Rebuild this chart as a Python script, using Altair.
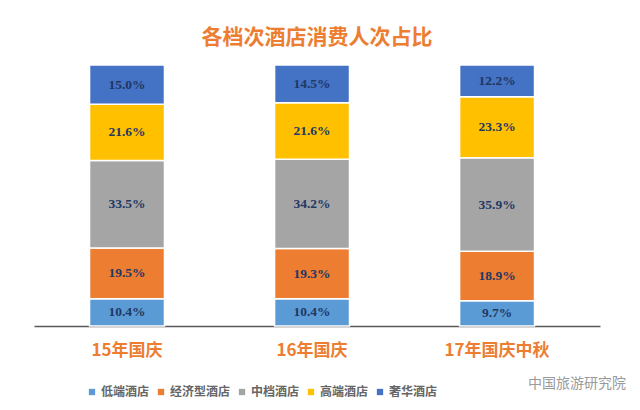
import altair as alt
import pandas as pd

# 数据
periods = ["15年国庆", "16年国庆", "17年国庆中秋"]
hotel_types = ["低端酒店", "经济型酒店", "中档酒店", "高端酒店", "奢华酒店"]
colors = ["#5B9BD5", "#ED7D31", "#A5A5A5", "#FFC000", "#4472C4"]

share_15 = [10.4, 19.5, 33.5, 21.6, 15.0]
share_16 = [10.4, 19.3, 34.2, 21.6, 14.5]
share_17 = [9.7, 18.9, 35.9, 23.3, 12.2]

rows = []
for period, shares in zip(periods, [share_15, share_16, share_17]):
    for i, (tipo, v) in enumerate(zip(hotel_types, shares)):
        rows.append({"period": period, "type": tipo, "order": i, "value": v})
dados = pd.DataFrame(rows)

cor_titulo = "#ED7D31"
cor_rotulo = "#1F3864"
fonte_cjk = "Noto Sans CJK SC"

base = alt.Chart(dados).transform_stack(
    stack="value",
    as_=["y0", "y1"],
    groupby=["period"],
    sort=[alt.SortField("order", order="ascending")],
).transform_calculate(
    mid="(datum.y0 + datum.y1) / 2",
    label="format(datum.value, '.1f') + '%'",
)

x_enc = alt.X(
    "period:N",
    sort=periods,
    title=None,
    scale=alt.Scale(paddingInner=0.595, paddingOuter=0.327, align=0.459),
    axis=alt.Axis(
        labelAngle=0,
        labelFont=fonte_cjk,
        labelFontSize=17,
        labelFontWeight="bold",
        labelColor=cor_titulo,
        labelPadding=16,
        ticks=False,
        domainColor="#595959",
        domainWidth=1.5,
    ),
)

# Barras empilhadas
barras = base.mark_bar(stroke="white", strokeWidth=1.5).encode(
    x=x_enc,
    y=alt.Y("y0:Q", scale=alt.Scale(domain=[0, 100]), axis=None),
    y2="y1:Q",
    color=alt.Color(
        "type:N",
        scale=alt.Scale(domain=hotel_types, range=colors),
        legend=alt.Legend(
            title=None,
            orient="none",
            direction="horizontal",
            columns=5,
            legendX=52,
            legendY=321,
            symbolType="square",
            symbolSize=40,
            symbolStrokeWidth=0,
            labelFont=fonte_cjk,
            labelFontSize=12,
            labelFontWeight="bold",
            labelColor="#666666",
            columnPadding=5,
            labelOffset=3,
        ),
    ),
)

# Rótulos percentuais
rotulos = base.mark_text(
    font="Liberation Serif",
    fontSize=13.5,
    fontWeight="bold",
    color=cor_rotulo,
).encode(
    x=alt.X("period:N", sort=periods),
    y=alt.Y("mid:Q"),
    text="label:N",
)

# Marca d'água
marca = alt.Chart(pd.DataFrame({"t": ["中国旅游研究院"]})).mark_text(
    font=fonte_cjk, fontSize=14, color="#9a9a9a", align="left"
).encode(x=alt.value(494), y=alt.value(319), text="t:N")

chart = (barras + rotulos + marca).properties(
    width=566,
    height=261,
    autosize=alt.AutoSizeParams(type="none"),
    padding={"left": 26, "top": 57, "right": 32, "bottom": 76},
    title=alt.Title(
        "各档次酒店消费人次占比",
        font=fonte_cjk,
        fontSize=21,
        fontWeight="bold",
        color=cor_titulo,
        anchor="middle",
        offset=16,
    ),
    background="white",
).configure_view(stroke=None)

chart.save("out.html", embed_options={"renderer": "svg", "actions": False})
